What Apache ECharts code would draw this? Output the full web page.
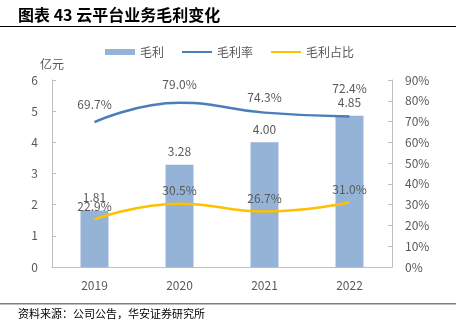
<!DOCTYPE html>
<html><head><meta charset="utf-8">
<script src="https://cdn.jsdelivr.net/npm/echarts@6/dist/echarts.min.js"></script>
<style>html,body{margin:0;padding:0;background:#fff}#c{width:456px;height:328px}</style>
</head><body><div id="c"></div>
<script>
const categories = ['2019', '2020', '2021', '2022'];
const grossProfit = [1.81, 3.28, 4.00, 4.85];
const grossMargin = [69.7, 79.0, 74.3, 72.4];
const profitShare = [22.9, 30.5, 26.7, 31.0];
const leftTicks = [0, 6, 1];
const rightTicks = [0, 90, 10];

const font = '"Noto Sans CJK SC", sans-serif';
const txt = '#595959';
const chart = echarts.init(document.getElementById('c'));
chart.setOption({
  animation: false,
  textStyle: { fontFamily: font },
  grid: { left: 52, right: 64, top: 80, bottom: 61 },
  legend: {
    top: 41, left: 100, itemGap: 18, itemWidth: 30, itemHeight: 6,
    textStyle: { color: txt, fontSize: 12, fontFamily: font },
    data: [
      { name: '毛利', icon: 'rect' },
      { name: '毛利率', icon: 'path://M0,0H30V2H0Z', itemStyle: { color: '#4a7ebb' } },
      { name: '毛利占比', icon: 'path://M0,0H30V2H0Z', itemStyle: { color: '#ffc000' } }
    ]
  },
  xAxis: {
    type: 'category', data: categories,
    axisLine: { lineStyle: { color: '#bfbfbf' } },
    axisTick: { show: false },
    axisLabel: { color: txt, fontSize: 12, margin: 12 }
  },
  yAxis: [
    { type: 'value', min: leftTicks[0], max: leftTicks[1], interval: leftTicks[2],
      name: '亿元', nameLocation: 'end', nameGap: 10, nameTextStyle: { color: txt, fontSize: 12, align: 'center' },
      axisLine: { show: true, lineStyle: { color: '#bfbfbf' } },
      axisTick: { show: true, inside: true, length: 4, lineStyle: { color: '#bfbfbf' } },
      splitLine: { show: false },
      axisLabel: { color: txt, fontSize: 12, margin: 14 } },
    { type: 'value', min: rightTicks[0], max: rightTicks[1], interval: rightTicks[2],
      axisLine: { show: true, lineStyle: { color: '#bfbfbf' } },
      axisTick: { show: true, inside: true, length: 4, lineStyle: { color: '#bfbfbf' } },
      splitLine: { show: false },
      axisLabel: { color: txt, fontSize: 12, margin: 13, formatter: '{value}%' } }
  ],
  series: [
    { name: '毛利', type: 'bar', data: grossProfit, barWidth: 28,
      itemStyle: { color: '#95b3d7' },
      label: { show: true, position: 'top', distance: 7, color: txt, fontSize: 12,
        formatter: p => p.value.toFixed(2) } },
    { name: '毛利率', type: 'line', yAxisIndex: 1, z: 3,
      data: grossMargin.map((v, i) => ({ value: v, label: { offset: [0, i === 3 ? -10 : (i === 2 ? 3 : 0)] } })),
      smooth: true, symbol: 'circle', symbolSize: 0.1, lineStyle: { color: '#4a7ebb', width: 2.5 }, itemStyle: { color: '#4a7ebb' },
      label: { show: true, position: 'top', distance: 12, color: txt, fontSize: 12,
        formatter: p => p.value.toFixed(1) + '%' } },
    { name: '毛利占比', type: 'line', yAxisIndex: 1, z: 3, data: profitShare,
      smooth: true, symbol: 'circle', symbolSize: 0.1, lineStyle: { color: '#ffc000', width: 2.5 }, itemStyle: { color: '#ffc000' },
      label: { show: true, position: 'top', distance: 7, color: txt, fontSize: 12,
        formatter: p => p.value.toFixed(1) + '%' } }
  ],
  graphic: [
    { type: 'text', left: 18, top: 7, style: { text: '图表 43 云平台业务毛利变化', font: 'bold 16px ' + font, fill: '#000' } },
    { type: 'rect', shape: { x: 0, y: 26, width: 456, height: 1 }, style: { fill: '#000' } },
    { type: 'rect', shape: { x: 0, y: 303, width: 456, height: 1.5 }, style: { fill: '#7f7f7f' } },
    { type: 'text', left: 18, top: 308, style: { text: '资料来源：公司公告，华安证券研究所', font: '11px ' + font, fill: '#000' } }
  ]
});
</script></body></html>
